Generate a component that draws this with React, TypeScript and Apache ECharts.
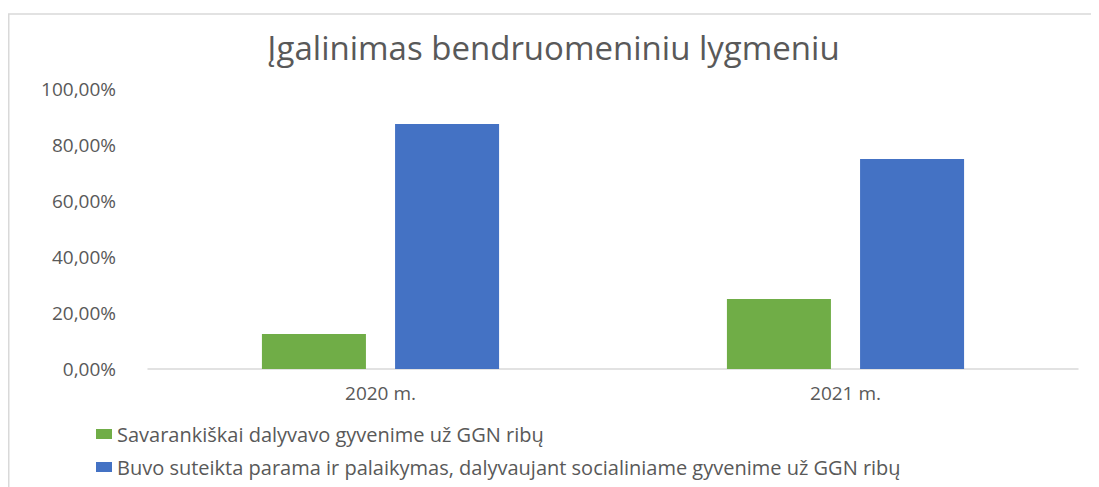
import React, { useEffect, useRef } from "react";
import * as echarts from "echarts";

const titleText = "Įgalinimas bendruomeniniu lygmeniu";
const categories = ["2020 m.", "2021 m."];
const seriesNames = [
  "Savarankiškai dalyvavo gyvenime už GGN ribų",
  "Buvo suteikta parama ir palaikymas, dalyvaujant socialiniame gyvenime už GGN ribų",
];
const greenValues = [0.125, 0.25];
const blueValues = [0.875, 0.75];
const colors = ["#70AD47", "#4472C4"];

const FONT = "'Open Sans', sans-serif";
const TEXT = "#595959";

export default function App() {
  const ref = useRef<HTMLDivElement>(null);
  useEffect(() => {
    if (!ref.current) return;
    const chart = echarts.init(ref.current, undefined, { renderer: "svg" });
    chart.setOption({
      animation: false,
      backgroundColor: "#ffffff",
      textStyle: { fontFamily: FONT },
      title: {
        text: titleText,
        left: "center",
        top: 20,
        padding: 0,
        textStyle: { color: TEXT, fontFamily: FONT, fontSize: 33, fontWeight: "normal", lineHeight: 38 },
      },
      graphic: [
        {
          type: "rect",
          silent: true,
          shape: { x: 0.75, y: 6, width: 3000, height: 3000 },
          style: { fill: "none", stroke: "#D9D9D9", lineWidth: 1.5 },
        },
      ],
      grid: { left: 140, right: 21, top: 81, bottom: 118, containLabel: false },
      xAxis: {
        type: "category",
        data: categories,
        axisLine: { lineStyle: { color: "#D9D9D9", width: 1.5 } },
        axisTick: { show: false },
        axisLabel: { color: TEXT, fontFamily: FONT, fontSize: 19, margin: 14 },
      },
      yAxis: {
        type: "value",
        min: 0,
        max: 1,
        interval: 0.2,
        axisLine: { show: false },
        axisTick: { show: false },
        splitLine: { show: false },
        axisLabel: {
          color: TEXT,
          fontFamily: FONT,
          fontSize: 19,
          margin: 32,
          formatter: (v: number) => (v * 100).toFixed(2).replace(".", ",") + "%",
        },
      },
      legend: {
        orient: "vertical",
        left: 88,
        top: 416,
        padding: 0,
        itemWidth: 16,
        itemHeight: 10,
        itemGap: 13,
        icon: "rect",
        textStyle: { color: TEXT, fontFamily: FONT, fontSize: 20, lineHeight: 20 },
        data: seriesNames,
      },
      series: [
        {
          name: seriesNames[0],
          type: "bar",
          data: greenValues,
          itemStyle: { color: colors[0] },
          barGap: "28%",
          barCategoryGap: "49%",
        },
        {
          name: seriesNames[1],
          type: "bar",
          data: blueValues,
          itemStyle: { color: colors[1] },
          barGap: "28%",
          barCategoryGap: "49%",
        },
      ],
    });
    return () => chart.dispose();
  }, []);
  return <div ref={ref} style={{ width: 1091, height: 479 }} />;
}
